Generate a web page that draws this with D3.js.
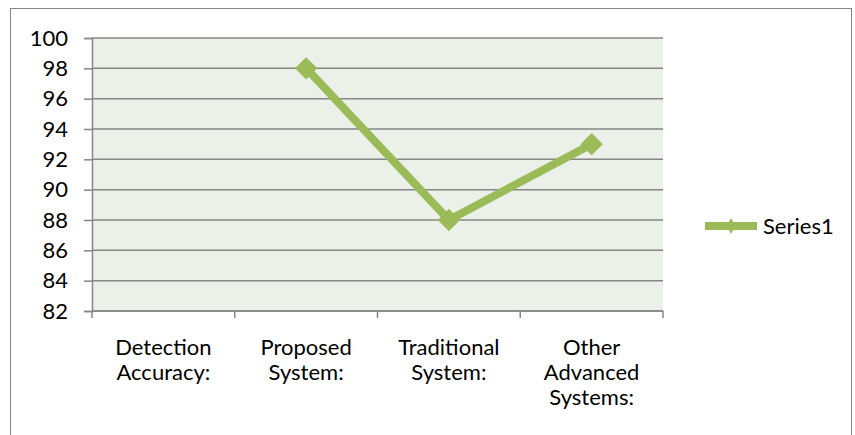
<!DOCTYPE html>
<html><head><meta charset="utf-8">
<script src="https://cdn.jsdelivr.net/npm/d3@7"></script>
<style>body{margin:0;background:#fff}svg{display:block}text{font-family:Lato,"Open Sans",sans-serif}</style>
</head><body><svg id="c" width="855" height="435"></svg>
<script>
const categories = ["Detection Accuracy:", "Proposed System:", "Traditional System:", "Other Advanced Systems:"];
const categoryLines = [["Detection","Accuracy:"],["Proposed","System:"],["Traditional","System:"],["Other","Advanced","Systems:"]];
const series1 = [null, 98, 88, 93];
const yTicks = [82,84,86,88,90,92,94,96,98,100];
const seriesName = "Series1";

const svg = d3.select("#c");
const L=92,T=38,R=663,B=311;
const green="#9BBB59", grid="#868686";
const FS=22;
svg.append("rect").attr("x",10.5).attr("y",8.5).attr("width",841).attr("height",440).attr("fill","none").attr("stroke","#868686").attr("stroke-width",1);
svg.append("rect").attr("x",L).attr("y",T).attr("width",R-L).attr("height",B-T).attr("fill","#EBF1E9");

const x = d3.scaleBand().domain(categories).range([L,R]);
const y = d3.scaleLinear().domain([82,100]).range([B,T]);

// gridlines
svg.append("g").selectAll("line").data(yTicks).join("line")
  .attr("x1",L).attr("x2",R).attr("y1",d=>y(d)).attr("y2",d=>y(d))
  .attr("stroke",grid).attr("stroke-width",1.5);

const ya = svg.append("g").attr("transform",`translate(${L},0)`)
  .call(d3.axisLeft(y).tickValues(yTicks).tickSize(8).tickPadding(16));
ya.select(".domain").attr("stroke",grid).attr("stroke-width",1.5);
ya.selectAll(".tick line").attr("stroke",grid).attr("stroke-width",1.5);
ya.selectAll("text").attr("font-size",FS).attr("fill","#000").attr("font-family","Lato,sans-serif");

// x axis baseline and ticks at band edges
const xa = svg.append("g");
xa.append("line").attr("x1",L).attr("x2",R).attr("y1",B).attr("y2",B).attr("stroke",grid).attr("stroke-width",1.5);
const edges = categories.map(c=>x(c)).concat([x(categories[categories.length-1])+x.bandwidth()]);
xa.selectAll("line.t").data(edges).join("line").attr("class","t")
  .attr("x1",d=>d).attr("x2",d=>d).attr("y1",B).attr("y2",B+7).attr("stroke",grid).attr("stroke-width",1.5);
categories.forEach((c,i)=>{
  const t = xa.append("text").attr("x",x(c)+x.bandwidth()/2).attr("y",355).attr("text-anchor","middle").attr("font-size",FS).attr("fill","#000");
  categoryLines[i].forEach((ln,j)=>t.append("tspan").attr("x",x(c)+x.bandwidth()/2).attr("dy",j?25:0).text(ln));
});

const pts = categories.map((c,i)=>({c,v:series1[i]})).filter(d=>d.v!=null);
const line = d3.line().x(d=>x(d.c)+x.bandwidth()/2).y(d=>y(d.v));
svg.append("path").datum(pts).attr("d",line).attr("fill","none").attr("stroke",green).attr("stroke-width",8).attr("stroke-linejoin","miter");
const sym = d3.symbol().type(d3.symbolDiamond2).size(320);
svg.append("g").selectAll("path").data(pts).join("path")
  .attr("transform",d=>`translate(${x(d.c)+x.bandwidth()/2},${y(d.v)})`).attr("d",sym).attr("fill",green);

// legend
const lg = svg.append("g");
lg.append("line").attr("x1",705).attr("x2",757).attr("y1",226).attr("y2",226).attr("stroke",green).attr("stroke-width",8);
lg.append("path").attr("transform","translate(731,226) scale(0.55,1)").attr("d",d3.symbol().type(d3.symbolDiamond2).size(160)).attr("fill",green);
lg.append("text").attr("x",763).attr("y",234).attr("font-size",FS).attr("fill","#000").text(seriesName);
</script></body></html>
